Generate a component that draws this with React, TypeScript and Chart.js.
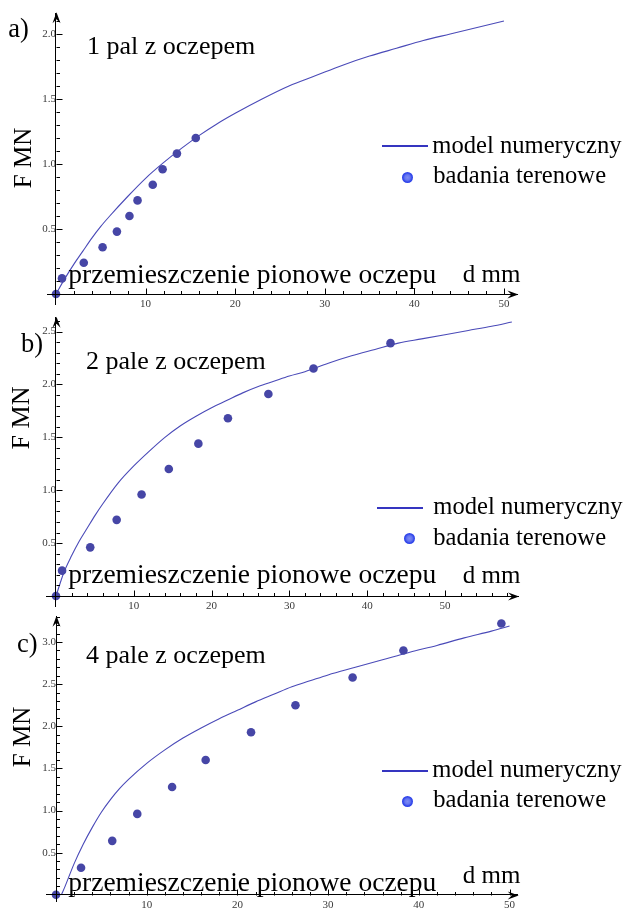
import React, { useEffect, useRef } from 'react';
import { Chart, registerables } from 'chart.js';

Chart.register(...registerables);

// ---------- Panel a) 1 pal z oczepem ----------
const A_TEST_D = [0, 0.67, 3.1, 5.2, 6.8, 8.2, 9.1, 10.8, 11.9, 13.5, 15.6];
const A_TEST_F = [0, 0.12, 0.24, 0.36, 0.48, 0.6, 0.72, 0.84, 0.96, 1.08, 1.2];
const A_MODEL_D = [0, 1, 2, 3, 4, 5, 6, 8, 10, 12, 14, 16, 18, 20, 23, 26, 29, 32, 35, 38, 41, 44, 47, 50];
const A_MODEL_F = [0, 0.12, 0.23, 0.33, 0.43, 0.52, 0.6, 0.75, 0.89, 1.01, 1.12, 1.22, 1.31, 1.39, 1.5, 1.6, 1.68, 1.76, 1.83, 1.89, 1.95, 2.0, 2.05, 2.1];
const A_X_TICKS = [10, 20, 30, 40, 50];
const A_Y_TICKS = [0.5, 1.0, 1.5, 2.0];

// ---------- Panel b) 2 pale z oczepem ----------
const B_TEST_D = [0, 0.78, 4.4, 7.8, 11.0, 14.5, 18.3, 22.1, 27.3, 33.1, 43.0];
const B_TEST_F = [0, 0.24, 0.46, 0.72, 0.96, 1.2, 1.44, 1.68, 1.91, 2.15, 2.39];
const B_MODEL_D = [0, 1, 2, 3, 4, 5, 6, 8, 10, 12, 14, 16, 18, 20, 22, 24, 26, 28, 30, 32, 35, 38, 41, 44, 47, 50, 53, 56, 58.6];
const B_MODEL_F = [0, 0.22, 0.38, 0.52, 0.64, 0.76, 0.87, 1.07, 1.23, 1.37, 1.5, 1.61, 1.7, 1.78, 1.85, 1.92, 1.98, 2.03, 2.08, 2.12, 2.2, 2.27, 2.33, 2.39, 2.43, 2.47, 2.51, 2.55, 2.59];
const B_X_TICKS = [10, 20, 30, 40, 50];
const B_Y_TICKS = [0.5, 1.0, 1.5, 2.0, 2.5];

// ---------- Panel c) 4 pale z oczepem ----------
const C_TEST_D = [0, 2.76, 6.2, 8.96, 12.8, 16.5, 21.5, 26.4, 32.7, 38.3, 49.1];
const C_TEST_F = [0, 0.32, 0.64, 0.96, 1.28, 1.6, 1.93, 2.25, 2.58, 2.9, 3.22];
const C_MODEL_D = [0.6, 1, 2, 3, 4, 5, 6, 7, 8, 10, 12, 14, 16, 18, 20, 22, 24, 26, 28, 30, 33, 36, 39, 42, 45, 48, 50];
const C_MODEL_F = [0, 0.1, 0.37, 0.6, 0.8, 0.98, 1.13, 1.26, 1.37, 1.56, 1.72, 1.86, 1.98, 2.09, 2.19, 2.29, 2.38, 2.47, 2.54, 2.61, 2.7, 2.79, 2.88, 2.96, 3.05, 3.13, 3.19];
const C_X_TICKS = [10, 20, 30, 40, 50];
const C_Y_TICKS = [0.5, 1.0, 1.5, 2.0, 2.5, 3.0];

const LEGEND_MODEL = 'model numeryczny';
const LEGEND_TEST = 'badania terenowe';
const X_LABEL = 'przemieszczenie pionowe oczepu';
const X_UNIT = 'd mm';
const Y_LABEL = 'F MN';

const SERIF = '"Liberation Serif", "Times New Roman", serif';
const LINE_COLOR = '#4a4ab8';
const POINT_COLOR = '#4646a6';

const zip = (xs: number[], ys: number[]) => xs.map((x, i) => ({ x, y: ys[i] }));

const axesDecor = {
  id: 'axesDecor',
  afterDraw(chart: any, _args: any, opts: any) {
    const { ctx, chartArea, scales } = chart;
    const xs = scales.x;
    const ys = scales.y;
    const ox = Math.round(xs.getPixelForValue(0)) + 0.5;
    const oy = Math.round(ys.getPixelForValue(0)) + 0.5;
    ctx.save();
    ctx.strokeStyle = '#000';
    ctx.lineWidth = 1;
    ctx.beginPath();
    const nx = Math.floor(xs.max / opts.xMinor + 1e-6);
    for (let i = 1; i <= nx; i++) {
      const v = i * opts.xMinor;
      const px = Math.round(xs.getPixelForValue(v)) + 0.5;
      const r = v / opts.xMajor;
      const major = Math.abs(r - Math.round(r)) < 1e-6;
      ctx.moveTo(px, oy);
      ctx.lineTo(px, oy - (major ? 6 : 3.5));
    }
    const ny = Math.floor(ys.max / opts.yMinor + 1e-6);
    for (let i = 1; i <= ny; i++) {
      const v = i * opts.yMinor;
      const py = Math.round(ys.getPixelForValue(v)) + 0.5;
      const r = v / opts.yMajor;
      const major = Math.abs(r - Math.round(r)) < 1e-6;
      ctx.moveTo(ox, py);
      ctx.lineTo(ox + (major ? 6 : 3.5), py);
    }
    ctx.stroke();
    ctx.fillStyle = '#000';
    const tipX = chartArea.right + 1;
    ctx.beginPath();
    ctx.moveTo(tipX, oy);
    ctx.lineTo(tipX - 11, oy - 4);
    ctx.lineTo(tipX - 7, oy);
    ctx.lineTo(tipX - 11, oy + 4);
    ctx.closePath();
    ctx.fill();
    const tipY = chartArea.top - 1;
    ctx.beginPath();
    ctx.moveTo(ox, tipY);
    ctx.lineTo(ox - 4, tipY + 11);
    ctx.lineTo(ox, tipY + 7);
    ctx.lineTo(ox + 4, tipY + 11);
    ctx.closePath();
    ctx.fill();
    ctx.restore();
  },
};

type PanelCfg = {
  top: number;
  height: number;
  modelD: number[];
  modelF: number[];
  testD: number[];
  testF: number[];
  xTicks: number[];
  yTicks: number[];
  xMin: number;
  xMax: number;
  yMin: number;
  yMax: number;
  pad: { left: number; right: number; top: number; bottom: number };
};

const PANELS: PanelCfg[] = [
  {
    top: 0, height: 320,
    modelD: A_MODEL_D, modelF: A_MODEL_F, testD: A_TEST_D, testF: A_TEST_F,
    xTicks: A_X_TICKS, yTicks: A_Y_TICKS,
    xMin: -1, xMax: 51.5, yMin: -0.08, yMax: 2.16,
    pad: { left: 47.04, right: 106.6, top: 13.2, bottom: 15.6 },
  },
  {
    top: 300, height: 320,
    modelD: B_MODEL_D, modelF: B_MODEL_F, testD: B_TEST_D, testF: B_TEST_F,
    xTicks: B_X_TICKS, yTicks: B_Y_TICKS,
    xMin: -1.2, xMax: 59.4, yMin: -0.1, yMax: 2.63,
    pad: { left: 46.66, right: 105.9, top: 17.75, bottom: 13.4 },
  },
  {
    top: 600, height: 312,
    modelD: C_MODEL_D, modelF: C_MODEL_F, testD: C_TEST_D, testF: C_TEST_F,
    xTicks: C_X_TICKS, yTicks: C_Y_TICKS,
    xMin: -1, xMax: 50.9, yMin: -0.08, yMax: 3.3,
    pad: { left: 46.93, right: 106.3, top: 16.8, bottom: 9.2 },
  },
];

function Panel({ cfg }: { cfg: PanelCfg }) {
  const ref = useRef<HTMLCanvasElement | null>(null);
  useEffect(() => {
    if (!ref.current) return;
    const tickFont = { family: SERIF, size: 11, lineHeight: 1.0 };
    const chart = new Chart(ref.current, {
      type: 'scatter',
      data: {
        datasets: [
          {
            label: LEGEND_MODEL,
            data: zip(cfg.modelD, cfg.modelF),
            showLine: true,
            borderColor: LINE_COLOR,
            borderWidth: 1.1,
            pointRadius: 0,
            cubicInterpolationMode: 'monotone',
            order: 2,
          } as any,
          {
            label: LEGEND_TEST,
            data: zip(cfg.testD, cfg.testF),
            showLine: false,
            pointRadius: 4.3,
            pointBackgroundColor: POINT_COLOR,
            pointBorderWidth: 0,
            borderWidth: 0,
            order: 1,
          } as any,
        ],
      },
      options: {
        animation: false,
        responsive: false,
        devicePixelRatio: 1,
        layout: { padding: cfg.pad },
        plugins: {
          legend: { display: false },
          tooltip: { enabled: false },
          title: { display: false },
          axesDecor: { xMinor: 2, xMajor: 10, yMinor: 0.1, yMajor: 0.5 },
        } as any,
        scales: {
          x: {
            type: 'linear',
            min: cfg.xMin,
            max: cfg.xMax,
            position: { y: 0 } as any,
            grid: { display: false, drawTicks: false },
            border: { display: true, color: '#000', width: 1, z: 1 } as any,
            afterBuildTicks: (s: any) => {
              s.ticks = cfg.xTicks.map((v) => ({ value: v }));
            },
            ticks: {
              autoSkip: false,
              maxRotation: 0,
              padding: 5,
              color: '#3a3a3a',
              font: tickFont,
              callback: (v: any) => String(v),
            },
          },
          y: {
            type: 'linear',
            min: cfg.yMin,
            max: cfg.yMax,
            position: { x: 0 } as any,
            grid: { display: false, drawTicks: false },
            border: { display: true, color: '#000', width: 1, z: 1 } as any,
            afterBuildTicks: (s: any) => {
              s.ticks = cfg.yTicks.map((v) => ({ value: v }));
            },
            ticks: {
              autoSkip: false,
              padding: 5,
              color: '#3a3a3a',
              font: tickFont,
              callback: (v: any) => Number(v).toFixed(1),
            },
          },
        } as any,
      },
      plugins: [axesDecor as any],
    });
    return () => chart.destroy();
  }, [cfg]);
  return (
    <canvas
      ref={ref}
      width={624}
      height={cfg.height}
      style={{ position: 'absolute', left: 0, top: cfg.top, width: 624, height: cfg.height }}
    />
  );
}

function Txt({ x, base, size, children }: { x: number; base: number; size: number; children: React.ReactNode }) {
  return (
    <div
      style={{
        position: 'absolute',
        left: x,
        top: base - 0.8375 * size,
        fontSize: size,
        lineHeight: `${size}px`,
        whiteSpace: 'nowrap',
        color: '#000',
        fontFamily: SERIF,
      }}
    >
      {children}
    </div>
  );
}

function VTxt({ cx, cy, size, children }: { cx: number; cy: number; size: number; children: React.ReactNode }) {
  return (
    <div
      style={{
        position: 'absolute',
        left: cx,
        top: cy,
        fontSize: size,
        lineHeight: `${size}px`,
        whiteSpace: 'nowrap',
        color: '#000',
        fontFamily: SERIF,
        transform: 'translate(-50%, -50%) rotate(-90deg)',
      }}
    >
      {children}
    </div>
  );
}

function Legend({ lineX1, lineX2, lineY, text1X, text1Base, dotX, dotY, text2X, text2Base }: any) {
  return (
    <>
      <div
        style={{
          position: 'absolute',
          left: lineX1,
          top: lineY - 1,
          width: lineX2 - lineX1,
          height: 2,
          background: '#3535c0',
        }}
      />
      <Txt x={text1X} base={text1Base} size={24.6}>{LEGEND_MODEL}</Txt>
      <div
        style={{
          position: 'absolute',
          left: dotX - 5.5,
          top: dotY - 5.5,
          width: 11,
          height: 11,
          borderRadius: '50%',
          background: 'radial-gradient(circle, #7f8cf2 0%, #6475f0 35%, #2f44ea 60%, #2a3ee6 100%)',
        }}
      />
      <Txt x={text2X} base={text2Base} size={24.6}>{LEGEND_TEST}</Txt>
    </>
  );
}

export default function App() {
  return (
    <div
      style={{
        position: 'absolute',
        left: 0,
        top: 0,
        width: 624,
        height: 912,
        overflow: 'hidden',
        background: '#fff',
      }}
    >
      {PANELS.map((p, i) => (
        <Panel key={i} cfg={p} />
      ))}

      {/* Panel a */}
      <Txt x={8.3} base={37} size={26.5}>a)</Txt>
      <Txt x={87} base={55} size={26}>1 pal z oczepem</Txt>
      <VTxt cx={21.5} cy={158} size={25}>{Y_LABEL}</VTxt>
      <Txt x={68.3} base={283.3} size={27.5}>{X_LABEL}</Txt>
      <Txt x={462.7} base={281.7} size={25}>{X_UNIT}</Txt>
      <Legend lineX1={381.7} lineX2={427.7} lineY={145.7} text1X={432.3} text1Base={153.5}
        dotX={407.3} dotY={177.3} text2X={433.3} text2Base={183.5} />

      {/* Panel b */}
      <Txt x={21} base={351.7} size={26.5}>b)</Txt>
      <Txt x={86} base={370} size={26}>2 pale z oczepem</Txt>
      <VTxt cx={21.3} cy={417.5} size={26}>{Y_LABEL}</VTxt>
      <Txt x={68.3} base={582.7} size={27.5}>{X_LABEL}</Txt>
      <Txt x={462.7} base={583.3} size={25}>{X_UNIT}</Txt>
      <Legend lineX1={376.7} lineX2={422.7} lineY={508.3} text1X={433.3} text1Base={515}
        dotX={409} dotY={538.3} text2X={433.3} text2Base={546} />

      {/* Panel c */}
      <Txt x={17} base={651.7} size={26.5}>c)</Txt>
      <Txt x={86} base={663.3} size={26}>4 pale z oczepem</Txt>
      <VTxt cx={21.3} cy={736.7} size={25}>{Y_LABEL}</VTxt>
      <Txt x={68.3} base={891} size={27.5}>{X_LABEL}</Txt>
      <Txt x={462.7} base={883.3} size={25}>{X_UNIT}</Txt>
      <Legend lineX1={381.7} lineX2={427.7} lineY={770.7} text1X={432.3} text1Base={778}
        dotX={407.3} dotY={801.7} text2X={433.3} text2Base={808} />
    </div>
  );
}
